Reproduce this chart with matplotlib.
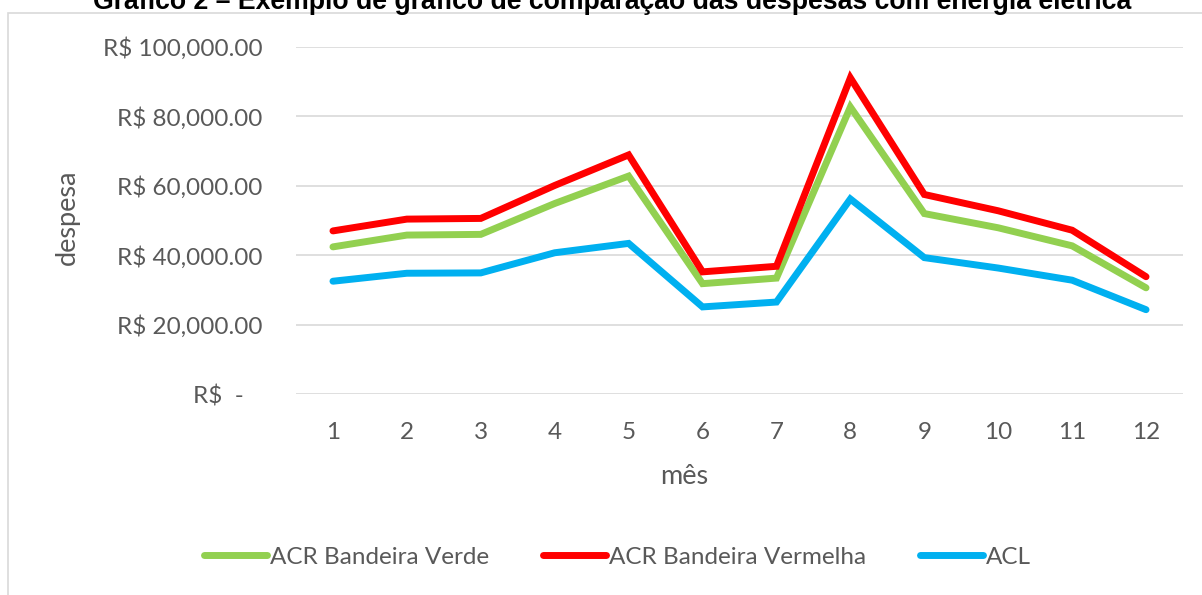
import matplotlib
matplotlib.use("Agg")
import matplotlib.pyplot as plt
from matplotlib.patches import Rectangle

months = [1, 2, 3, 4, 5, 6, 7, 8, 9, 10, 11, 12]
acr_verde = [42400, 45800, 46000, 54900, 62800, 31800, 33400, 82700, 52000, 47900, 42700, 30600]
acr_vermelha = [47000, 50400, 50600, 60100, 68900, 35200, 36800, 91100, 57500, 52800, 47200, 33800]
acl = [32500, 34800, 34900, 40700, 43400, 25100, 26500, 56200, 39300, 36300, 32800, 24300]
series_names = ["ACR Bandeira Verde", "ACR Bandeira Vermelha", "ACL"]
colors = ["#92D050", "#FF0000", "#00B0F0"]
yticks = [0, 20000, 40000, 60000, 80000, 100000]
ytick_labels = ["R$  -   ", "R$ 20,000.00", "R$ 40,000.00", "R$ 60,000.00", "R$ 80,000.00", "R$ 100,000.00"]
title = "Gráfico 2 – Exemplo de gráfico de comparação das despesas com energia elétrica"

W, H = 1202, 595
fig = plt.figure(figsize=(W / 100, H / 100), dpi=100)
plt.rcParams['font.family'] = ['Lato', 'DejaVu Sans']
txt = "#595959"
fs = 17.5

# chart border
fig.patches.append(Rectangle((8 / W, -0.1), 1.2, 1 - 13 / H + 0.1, transform=fig.transFigure,
                             fill=False, edgecolor="#D9D9D9", linewidth=1.2, zorder=0))

ax = fig.add_axes([296 / W, 1 - 394 / H, 887 / W, 347 / H])
x = list(range(len(months)))
for vals, name, c in zip([acr_verde, acr_vermelha, acl], series_names, colors):
    ax.plot(x, vals, color=c, linewidth=5, label=name, solid_capstyle='round', solid_joinstyle='miter')

ax.set_xlim(-0.5, len(months) - 0.5)
ax.set_ylim(0, 100000)
ax.set_yticks(yticks)
ax.set_yticklabels(ytick_labels)
ax.set_xticks(x)
ax.set_xticklabels([str(m) for m in months])
ax.grid(axis='y', color="#D9D9D9", linewidth=1.2)
ax.set_axisbelow(True)
for s in ax.spines.values():
    s.set_visible(False)
ax.tick_params(axis='both', length=0, colors=txt, labelsize=fs)
ax.tick_params(axis='y', pad=24)
ax.tick_params(axis='x', pad=20)

fig.text(684 / W, 1 - 477 / H, "mês", ha='center', va='center', fontsize=19.5, color=txt)
fig.text(67 / W, 1 - 217 / H, "despesa", ha='center', va='center', rotation=90, fontsize=19.5, color=txt)

t = fig.text(612 / W, 1 - 9 / H, title, ha='center', va='baseline', fontsize=16,
             fontweight='bold', family='Liberation Sans', color='black')
fig.canvas.draw()
bb = t.get_window_extent()
t.set_fontsize(16 * 1039 / bb.width)

leg = fig.legend(loc='center', bbox_to_anchor=(617.5 / W, 1 - 557 / H), ncol=3, frameon=False,
                 fontsize=fs, handlelength=2.6, handletextpad=0.12, columnspacing=2.2, labelcolor=txt)

fig.savefig("out.png", dpi=100)
